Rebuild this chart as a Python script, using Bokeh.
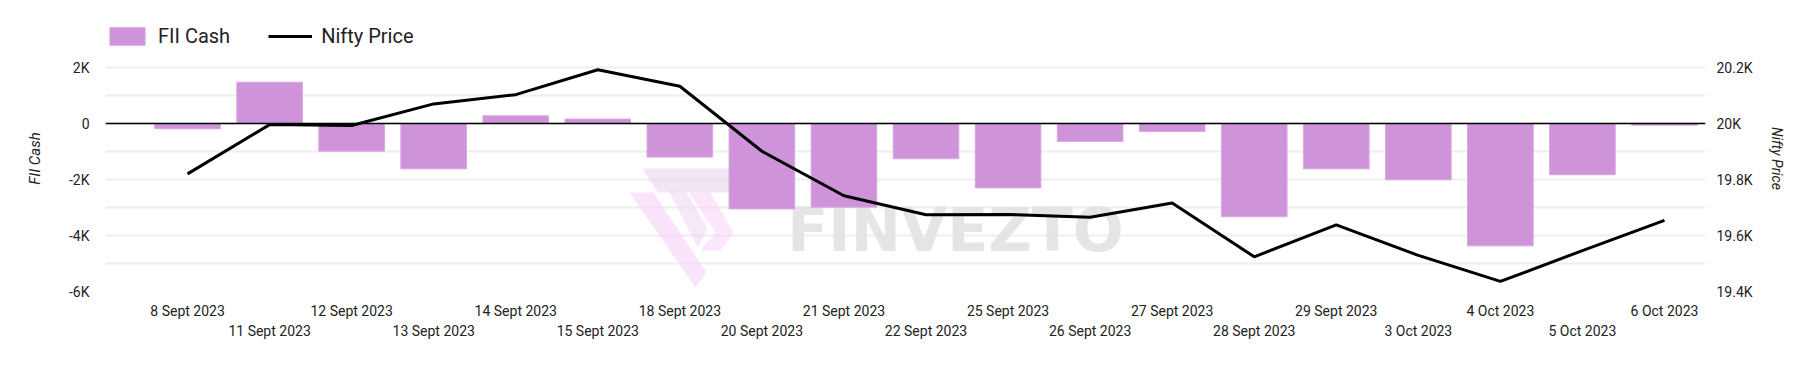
from bokeh.plotting import figure
from bokeh.models import (Range1d, LinearAxis, FixedTicker, Span, Legend,
                          LegendItem, Label, PolyAnnotation)
from bokeh.embed import file_html
from bokeh.resources import INLINE

# ---- data -------------------------------------------------------------
dates = ["8 Sept 2023", "11 Sept 2023", "12 Sept 2023", "13 Sept 2023",
         "14 Sept 2023", "15 Sept 2023", "18 Sept 2023", "20 Sept 2023",
         "21 Sept 2023", "22 Sept 2023", "25 Sept 2023", "26 Sept 2023",
         "27 Sept 2023", "28 Sept 2023", "29 Sept 2023", "3 Oct 2023",
         "4 Oct 2023", "5 Oct 2023", "6 Oct 2023"]
fii_cash = [-190, 1475, -990, -1620, 275, 160, -1200, -3050, -2990, -1260,
            -2300, -640, -285, -3330, -1620, -2010, -4370, -1830, -60]
nifty_price = [19820, 19996, 19993, 20070, 20103, 20192, 20133, 19901, 19742,
               19674, 19675, 19665, 19716, 19524, 19638, 19529, 19436, 19546,
               19654]
cash_ticks = [-6000, -4000, -2000, 0, 2000]
cash_tick_labels = ["-6K", "-4K", "-2K", "0", "2K"]
cash_minor = [-5000, -3000, -1000, 1000]
price_ticks = [19400, 19600, 19800, 20000, 20200]
price_tick_labels = ["19.4K", "19.6K", "19.8K", "20K", "20.2K"]

idx = list(range(len(dates)))
FONT = "Roboto"
TXT = "#222222"

# head-room above the top tick so the legend sits inside the frame
HEAD = 1500
p = figure(width=1794, height=378,
           x_range=Range1d(-1, len(dates) - 0.5),
           y_range=Range1d(cash_ticks[0], cash_ticks[-1] + HEAD),
           output_backend="svg", toolbar_location=None,
           min_border_left=105, min_border_right=89,
           min_border_top=25, min_border_bottom=87)
p.outline_line_color = None
p.background_fill_color = "white"
p.border_fill_color = "white"

# left axis
ly = p.yaxis[0]
ly.ticker = FixedTicker(ticks=cash_ticks, minor_ticks=cash_minor)
ly.major_label_overrides = dict(zip(cash_ticks, cash_tick_labels))
ly.axis_label = "FII Cash"
ly.axis_label_text_font = FONT
ly.axis_label_text_font_style = "italic"
ly.axis_label_text_font_size = "15px"
ly.axis_label_text_color = TXT
ly.axis_label_standoff = 22
ly.major_label_text_font = FONT
ly.major_label_text_font_size = "14px"
ly.major_label_text_color = TXT
ly.major_label_standoff = 16
ly.axis_line_color = None
ly.major_tick_line_color = None
ly.minor_tick_line_color = None
ly.major_tick_out = 0
ly.minor_tick_out = 0

p.ygrid.ticker = ly.ticker
p.ygrid.grid_line_color = "#eeeeee"
p.ygrid.grid_line_width = 2
p.ygrid.minor_grid_line_color = "#eeeeee"
p.ygrid.minor_grid_line_width = 2
p.xgrid.visible = False

# right axis
p.extra_y_ranges = {"nifty": Range1d(price_ticks[0],
                                     price_ticks[-1] + HEAD / 10)}
ry = LinearAxis(y_range_name="nifty",
                ticker=FixedTicker(ticks=price_ticks),
                major_label_overrides=dict(zip(price_ticks, price_tick_labels)))
ry.axis_label = "Nifty Price"
ry.axis_label_text_font = FONT
ry.axis_label_text_font_style = "italic"
ry.axis_label_text_font_size = "14px"
ry.axis_label_text_color = TXT
ry.axis_label_standoff = 13
ry.major_label_text_font = FONT
ry.major_label_text_font_size = "14px"
ry.major_label_text_color = TXT
ry.major_label_standoff = 11
ry.axis_line_color = None
ry.major_tick_line_color = None
ry.minor_tick_line_color = None
ry.major_tick_out = 0
ry.minor_tick_out = 0
p.add_layout(ry, "right")

# bottom axes: staggered date labels
even = idx[0::2]
odd = idx[1::2]
bx = p.xaxis[0]
bx.ticker = FixedTicker(ticks=even)
bx.major_label_overrides = {i: dates[i] for i in even}
bx2 = LinearAxis(ticker=FixedTicker(ticks=odd),
                 major_label_overrides={i: dates[i] for i in odd})
for ax, so in ((bx, 11), (bx2, 1)):
    ax.major_label_text_font = FONT
    ax.major_label_text_font_size = "14px"
    ax.major_label_text_color = TXT
    ax.major_label_standoff = so
    ax.axis_line_color = None
    ax.major_tick_line_color = None
    ax.minor_tick_line_color = None
    ax.major_tick_out = 0
    ax.major_tick_in = 0
    ax.minor_tick_out = 0
    ax.minor_tick_in = 0
p.add_layout(bx2, "below")


# ---- watermark (logo + word), placed by pixel position ------------------
def px2x(px):
    return (px - 105) / 82.05 - 1


def py2y(py):
    return 2000 - (py - 67) / 28 * 1000


logo_shapes = [
    ([642, 778, 763, 657], [168, 168, 192, 192], "#ead6ee"),
    ([629, 653, 706, 695], [192, 192, 272, 287], "#f6d2f8"),
    ([668, 685, 707, 697], [190, 190, 228, 247], "#efd8f2"),
    ([688, 710, 733, 720, 700, 715], [192, 192, 232, 250, 250, 232], "#f8d6fa"),
]
for xs, ys, col in logo_shapes:
    p.add_layout(PolyAnnotation(xs=[px2x(v) for v in xs],
                                ys=[py2y(v) for v in ys],
                                fill_color=col, fill_alpha=0.6,
                                line_color=None, level="underlay"))

p.add_layout(Label(x=px2x(955), y=py2y(229), text="FINVEZTO",
                   text_align="center", text_baseline="middle",
                   text_font="DejaVu Sans", text_font_style="bold",
                   text_font_size="60px", text_color="#e2e2e2",
                   text_alpha=0.9, level="underlay"))

# bars
bars = p.vbar(x=idx, top=fii_cash, bottom=0, width=0.8,
              fill_color="#CE93D8", line_color="#d9a8e1", line_width=1)

# zero line
p.add_layout(Span(location=0, dimension="width", line_color="black",
                  line_width=1.5))

# nifty line
line = p.line(x=idx, y=nifty_price, y_range_name="nifty",
              line_color="black", line_width=3)

legend = Legend(items=[LegendItem(label="FII Cash", renderers=[bars]),
                       LegendItem(label="Nifty Price", renderers=[line])],
                location=(0, 243), orientation="horizontal",
                glyph_width=44, glyph_height=22, label_height=22,
                label_standoff=9, spacing=38, padding=0, margin=0,
                border_line_color=None, background_fill_alpha=0,
                label_text_font=FONT, label_text_font_size="20px",
                label_text_color=TXT)
p.add_layout(legend)

open("out.html", "w").write(file_html(p, INLINE))
